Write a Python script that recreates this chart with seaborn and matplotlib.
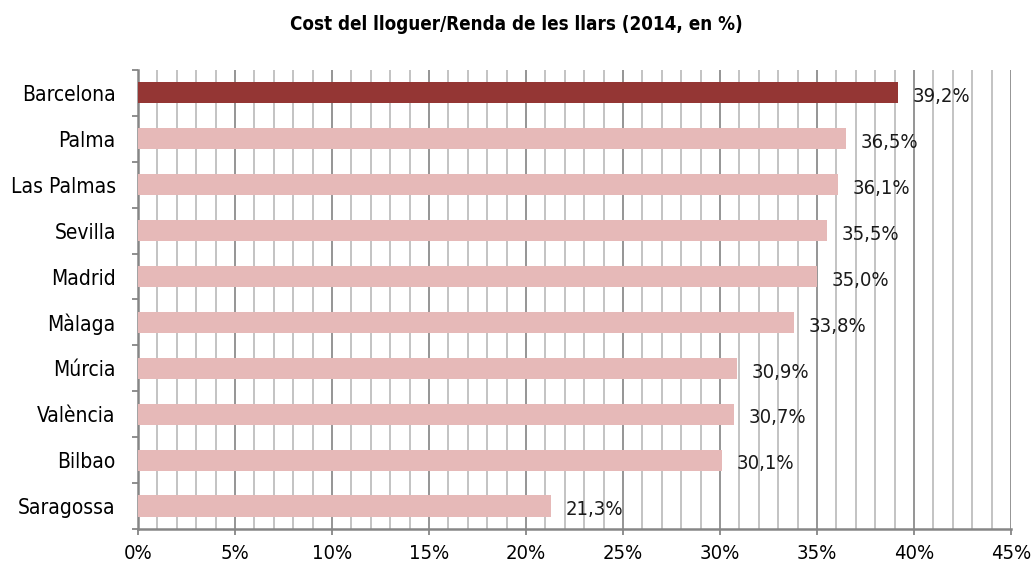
import matplotlib
matplotlib.use("Agg")
from matplotlib import pyplot as plt
from matplotlib.ticker import MultipleLocator, FixedLocator
import pandas as pd
import seaborn as sns
import numpy as np

cities = ["Barcelona", "Palma", "Las Palmas", "Sevilla", "Madrid",
          "Màlaga", "Múrcia", "València", "Bilbao", "Saragossa"]
values = [39.2, 36.5, 36.1, 35.5, 35.0, 33.8, 30.9, 30.7, 30.1, 21.3]
highlight = "Barcelona"
title = "Cost del lloguer/Renda de les llars (2014, en %)"

sns.set_theme(style="white")
plt.rcParams["font.family"] = ["DejaVu Sans"]
plt.rcParams["font.stretch"] = "condensed"
plt.rcParams["text.color"] = "black"

df = pd.DataFrame({"city": cities, "value": values})
palette = {c: ("#943634" if c == highlight else "#E6B9B8") for c in cities}

fig = plt.figure(figsize=(10.33, 5.75), dpi=100)
ax = fig.add_axes([0.1336, 0.08, 0.8451, 0.7983])

sns.barplot(data=df, y="city", x="value", hue="city", palette=palette,
            order=cities, width=0.46, saturation=1, legend=False, ax=ax,
            linewidth=0, zorder=3)

ax.set_xlim(0, 45)
ax.set_ylim(len(cities) - 0.5, -0.5)
ax.xaxis.set_major_locator(MultipleLocator(5))
ax.xaxis.set_minor_locator(MultipleLocator(1))
ax.set_xticklabels([f"{int(v)}%" for v in ax.get_xticks()])
ax.grid(which="minor", axis="x", color="#BEBEBE", linewidth=1.3, zorder=0)
ax.grid(which="major", axis="x", color="#8C8C8C", linewidth=1.3, zorder=0)
ax.set_axisbelow(True)

# category boundary ticks on y
ax.yaxis.set_minor_locator(FixedLocator(np.arange(-0.5, len(cities), 1)))
ax.tick_params(axis="y", which="major", length=0, labelsize=15, pad=16, labelcolor="black")
ax.tick_params(axis="y", which="minor", length=4, width=1.3, color="#868686", left=True)
ax.tick_params(axis="x", which="major", length=4.5, width=1.3, color="#868686",
               labelsize=14.5, pad=6, bottom=True, labelcolor="black")
ax.tick_params(axis="x", which="minor", length=0)

for s in ["top", "right"]:
    ax.spines[s].set_visible(False)
for s in ["left", "bottom"]:
    ax.spines[s].set_color("#868686")
    ax.spines[s].set_linewidth(1.8)

for i, v in enumerate(values):
    ax.text(v + 0.75, i + 0.08, f"{v:.1f}%".replace(".", ","), va="center",
            ha="left", fontsize=14.5, color="#1A1A1A", zorder=4)

ax.set_xlabel("")
ax.set_ylabel("")
fig.text(0.5, 0.958, title, ha="center", va="center", fontsize=13.5, fontweight="bold")

fig.savefig("out.png", dpi=100)
